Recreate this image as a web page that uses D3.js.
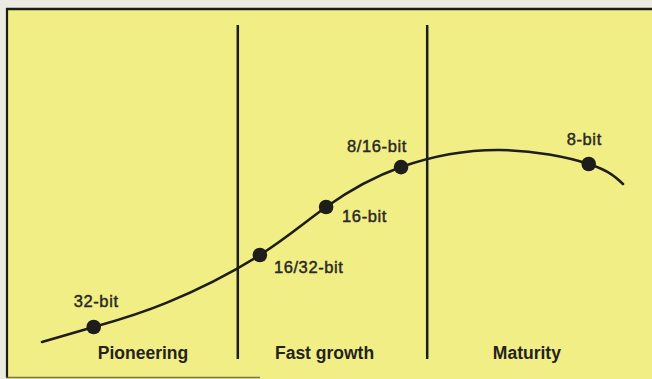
<!DOCTYPE html>
<html>
<head>
<meta charset="utf-8">
<script src="https://cdn.jsdelivr.net/npm/d3@7/dist/d3.min.js"></script>
<style>
  html, body { margin: 0; padding: 0; background: #ecebe2; }
  svg { display: block; }
</style>
</head>
<body>
<svg id="chart" width="652" height="379"></svg>
<script>
// Product life-cycle curve: time (0-100) against market development (0-100)
const curveTime  = [0, 8.9, 21.5, 37.5, 48.9, 61.8, 78.7, 94.1, 100];
const curveLevel = [0, 7.8, 20.5, 45.3, 70.3, 91.1, 100, 92.7, 82.3];

// Processor generations placed on the curve
const chipNames = ["32-bit", "16/32-bit", "16-bit", "8/16-bit", "8-bit"];
const chipTime  = [8.9, 37.5, 48.9, 61.8, 94.1];
const chipLevel = [7.8, 45.3, 70.3, 91.1, 92.7];

// Phases of the cycle
const phaseNames  = ["Pioneering", "Fast growth", "Maturity"];
const phaseBounds = [33.7, 66.3];
const phaseLabelTime = [9.6, 40.1, 77.6];

const W = 652, H = 379;
const svg = d3.select("#chart");

const x = d3.scaleLinear().domain([0, 100]).range([42, 623]);
const y = d3.scaleLinear().domain([0, 100]).range([342, 150]);

const ink = "#1f1d1a";

// Panel
svg.append("rect").attr("x", 0).attr("y", 0).attr("width", W).attr("height", H).attr("fill", "#ecebe2");
svg.append("rect").attr("x", 7).attr("y", 9).attr("width", W - 7).attr("height", H - 9).attr("fill", "#f0ee84");

// Frame lines
svg.append("line").attr("x1", 6).attr("x2", W).attr("y1", 9).attr("y2", 9)
  .attr("stroke", ink).attr("stroke-width", 2.6);
svg.append("line").attr("x1", 7).attr("x2", 7).attr("y1", 8).attr("y2", 378)
  .attr("stroke", ink).attr("stroke-width", 2.2);
svg.append("line").attr("x1", 6).attr("x2", 260).attr("y1", 377.5).attr("y2", 377.5)
  .attr("stroke", "#5a584a").attr("stroke-width", 1.4).attr("opacity", 0.8);

// Phase boundaries
svg.selectAll("line.phase").data(phaseBounds).join("line")
  .attr("class", "phase")
  .attr("x1", d => x(d)).attr("x2", d => x(d))
  .attr("y1", 25).attr("y2", 359)
  .attr("stroke", ink).attr("stroke-width", 2.5);

// Life-cycle curve
const pts = curveTime.map((t, i) => [t, curveLevel[i]]);
const line = d3.line().x(d => x(d[0])).y(d => y(d[1])).curve(d3.curveNatural);
svg.append("path").attr("d", line(pts))
  .attr("fill", "none").attr("stroke", ink).attr("stroke-width", 2.6)
  .attr("stroke-linecap", "round");

// Dots
svg.selectAll("circle.chip").data(chipNames).join("circle")
  .attr("class", "chip")
  .attr("cx", (d, i) => x(chipTime[i]))
  .attr("cy", (d, i) => y(chipLevel[i]))
  .attr("r", 7.3)
  .attr("fill", ink);

// Chip labels, offset from their dots
const labelOffset = {
  "32-bit":    [-20, -20],
  "16/32-bit": [14, 18],
  "16-bit":    [16, 15],
  "8/16-bit":  [-54, -15],
  "8-bit":     [-22, -19]
};
svg.selectAll("text.chip").data(chipNames).join("text")
  .attr("class", "chip")
  .attr("x", (d, i) => x(chipTime[i]) + labelOffset[d][0])
  .attr("y", (d, i) => y(chipLevel[i]) + labelOffset[d][1])
  .attr("font-family", "'Liberation Sans', Arial, sans-serif")
  .attr("font-size", 16.5)
  .attr("letter-spacing", 0.6)
  .attr("fill", "#2a2824")
  .attr("stroke", "#2a2824").attr("stroke-width", 0.45)
  .text(d => d);

// Phase labels
svg.selectAll("text.phase").data(phaseNames).join("text")
  .attr("class", "phase")
  .attr("x", (d, i) => x(phaseLabelTime[i]))
  .attr("y", 359)
  .attr("font-family", "'Liberation Sans', Arial, sans-serif")
  .attr("font-weight", "bold")
  .attr("font-size", 17.5)
  .attr("fill", "#24221e")
  .text(d => d);
</script>
</body>
</html>
